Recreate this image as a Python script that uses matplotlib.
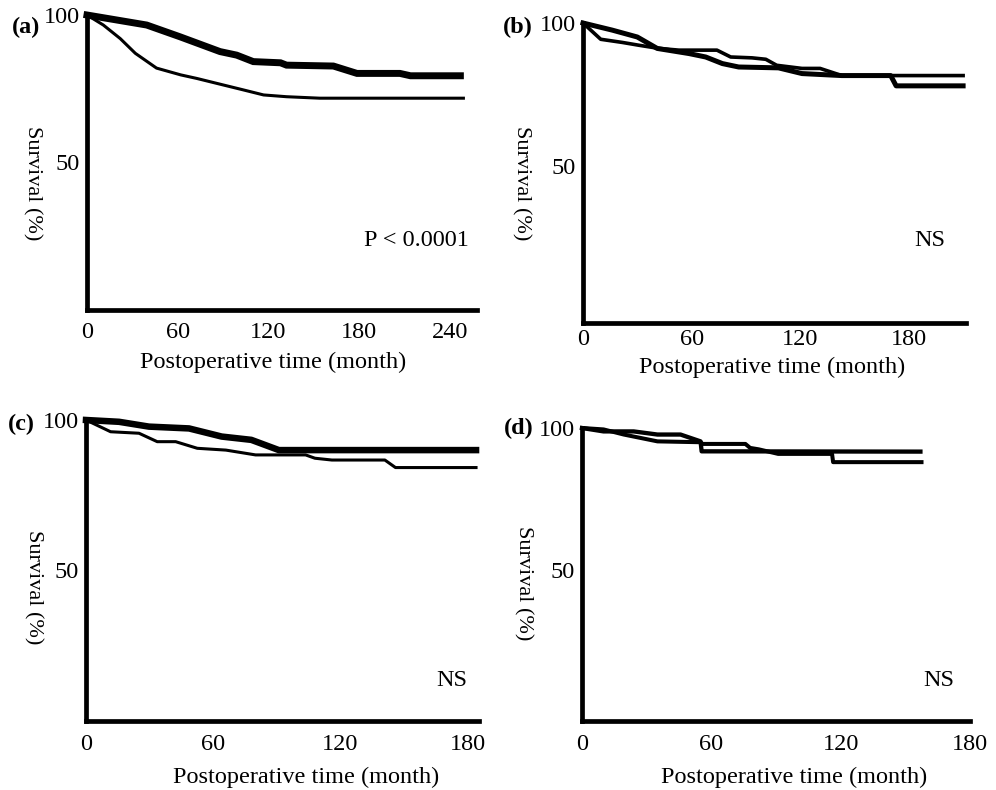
import matplotlib
matplotlib.use("Agg")
import matplotlib.pyplot as plt

plt.rcParams['font.family'] = ['Liberation Serif', 'DejaVu Serif']

# ---------------- data ----------------
# panel (a)
a_thick_t = [0, 39.5, 61.6, 88, 99, 110, 128, 132, 163, 178.6, 207, 214, 247]
a_thick_s = [100, 96.6, 92.6, 87.6, 86.4, 84.2, 83.8, 83.0, 82.7, 80.2, 80.2, 79.4, 79.4]
a_thin_t = [0, 10.8, 22, 32, 46, 62, 72.6, 90, 103.5, 116.8, 132, 154, 249]
a_thin_s = [100, 96.6, 92, 87, 82, 79.7, 78.5, 76.3, 74.6, 72.9, 72.3, 71.8, 71.8]

# panel (b)
b_thin_t = [0, 9.8, 21.7, 31, 42, 53, 74, 81.6, 93.4, 101, 107, 121, 131, 143, 210]
b_thin_s = [100, 94.3, 93.2, 92.2, 91.1, 90.5, 90.5, 88.1, 87.8, 87.3, 85.2, 84.1, 84.1, 81.6, 81.6]
b_thick_t = [0, 16.2, 30, 41, 58.6, 67.8, 77, 86, 108, 121, 143, 170, 173, 210]
b_thick_s = [100, 97.5, 95.1, 91.1, 89.3, 88.1, 85.8, 84.6, 84.3, 82.3, 81.6, 81.6, 78.0, 78.0]

# panel (c)
c_thick_t = [0, 15.6, 29.7, 48.6, 64, 78, 91, 184]
c_thick_s = [100, 99.4, 97.8, 97.2, 94.5, 93.4, 90.0, 90.0]
c_thin_t = [0, 11.6, 25, 33.6, 42.3, 52.5, 66, 80, 103.6, 108, 116, 141, 146, 184]
c_thin_s = [100, 96.1, 95.6, 92.8, 92.8, 90.6, 90.0, 88.4, 88.4, 87.3, 86.7, 86.7, 84.2, 84.2]

# panel (d)
d_a_t = [0, 10, 19.4, 35, 55, 56, 75.8, 78, 82, 91, 116, 116.5, 157.5]
d_a_s = [100, 99.5, 97.7, 95.3, 95.0, 94.4, 94.4, 93.0, 92.5, 90.9, 90.9, 88.0, 88.0]
d_b_t = [0, 10, 24, 35, 45.7, 55, 55.5, 157]
d_b_s = [100, 98.8, 98.8, 97.7, 97.7, 95.3, 91.8, 91.7]

a_xticks = [0, 60, 120, 180, 240]
bcd_xticks = [0, 60, 120, 180]
yticks = [50, 100]

xlabel = "Postoperative time (month)"
ylabel = "Survival (%)"

# ---------------- figure ----------------
W, H = 996, 790
fig = plt.figure(figsize=(W / 100, H / 100), dpi=100)


def make_ax(left, right, top, bottom):
    return fig.add_axes([left / W, 1 - bottom / H, (right - left) / W, (bottom - top) / H])


FS = 17.5
SPINE = 3.4


def style(ax, xlim, ylim, xticks, ylab_pos, xlab_pos, xpad=9):
    ax.set_xlim(*xlim)
    ax.set_ylim(*ylim)
    for s in ['top', 'right']:
        ax.spines[s].set_visible(False)
    for s in ['left', 'bottom']:
        ax.spines[s].set_linewidth(SPINE)
        ax.spines[s].set_capstyle('projecting')
    ax.set_xticks(xticks)
    ax.set_yticks(yticks)
    ax.tick_params(length=0, labelsize=FS)
    ax.tick_params(axis='x', pad=xpad)
    ax.tick_params(axis='y', pad=5)
    ax.text(*ylab_pos, ylabel, transform=ax.transAxes, rotation=270,
            ha='center', va='center', fontsize=16)
    ax.text(*xlab_pos, xlabel, transform=ax.transAxes,
            ha='center', va='center', fontsize=FS)


# (a)
axa = make_ax(87, 477, 15, 310)
axa.plot(a_thick_t, a_thick_s, color='black', lw=5.0, solid_joinstyle='miter', clip_on=False)
axa.plot(a_thin_t, a_thin_s, color='black', lw=2.2, clip_on=False)
style(axa, (0, 258), (0, 100), a_xticks, (-0.141, 0.43), (0.477, -0.176))

# (b)
axb = make_ax(583, 966, 23, 323)
axb.plot(b_thin_t, b_thin_s, color='black', lw=2.6, clip_on=False)
axb.plot(b_thick_t, b_thick_s, color='black', lw=3.6, clip_on=False)
style(axb, (0, 211.6), (-5, 100), bcd_xticks, (-0.162, 0.466), (0.494, -0.148), xpad=4)

# (c)
axc = make_ax(86, 479, 420, 721)
axc.plot(c_thick_t, c_thick_s, color='black', lw=4.7, clip_on=False)
axc.plot(c_thin_t, c_thin_s, color='black', lw=2.2, clip_on=False)
style(axc, (0, 185.4), (0, 100), bcd_xticks, (-0.135, 0.445), (0.56, -0.186))

# (d)
axd = make_ax(582, 970, 428, 721)
axd.plot(d_a_t, d_a_s, color='black', lw=2.9, clip_on=False)
axd.plot(d_b_t, d_b_s, color='black', lw=3.1, clip_on=False)
style(axd, (0, 180), (-3, 100), bcd_xticks, (-0.152, 0.471), (0.546, -0.191))

# panel letters
for lab, x, y in [("(a)", 26, 27), ("(b)", 518, 27), ("(c)", 21, 424), ("(d)", 519, 428)]:
    fig.text(x / W, 1 - y / H, lab, ha='center', va='center', fontsize=FS, fontweight='bold')

# annotations
for txt, x, y in [("P < 0.0001", 469, 241), ("NS", 945, 240), ("NS", 467, 680), ("NS", 954, 681)]:
    fig.text(x / W, 1 - y / H, txt, ha='right', va='center', fontsize=FS)

fig.savefig("out.png", dpi=100)
